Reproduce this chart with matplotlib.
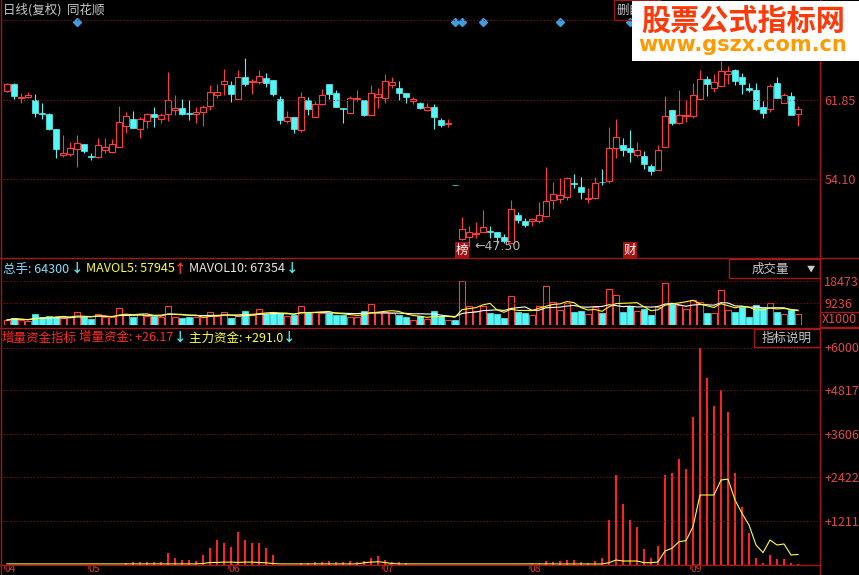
import numpy as np
import pandas as pd
import matplotlib
matplotlib.use("Agg")
import matplotlib.pyplot as plt
from matplotlib.lines import Line2D
from matplotlib.patches import Rectangle
import matplotlib.transforms as mtransforms

plt.rcParams['font.family'] = ['Noto Sans CJK SC', 'DejaVu Sans']

# daily candles (qfq), one per trading day
opens = [62.73, 63.38, 62.04, 62.11, 61.82, 60.52, 60.49, 59.00, 56.43, 56.56,
         57.05, 57.51, 56.37, 56.24, 56.92, 56.76, 57.27, 59.29, 59.97, 58.97,
         59.80, 60.49, 59.97, 60.43, 60.88, 61.04, 60.58, 60.43, 60.62, 61.21,
         62.34, 63.38, 63.25, 61.92, 64.06, 63.54, 63.57, 64.00, 63.77, 61.92,
         59.77, 60.13, 58.90, 61.82, 60.19, 61.40, 63.38, 62.53, 61.01, 60.58,
         61.89, 61.82, 60.36, 62.14, 61.99, 63.28, 62.96, 62.53, 61.75, 61.50,
         60.88, 61.14, 59.87, 59.48, 53.53, 48.25, 48.48, 48.80, 48.99, 49.09,
         48.99, 48.51, 47.92, 50.59, 50.04, 50.07, 50.04, 50.55, 52.08, 52.15,
         52.40, 53.71, 53.38, 52.21, 52.24, 53.86, 53.96, 57.12, 57.41, 57.12,
         56.49, 56.40, 55.39, 55.00, 57.27, 60.85, 59.55, 60.29, 60.29, 61.89,
         63.87, 62.96, 63.21, 64.32, 64.74, 64.03, 62.96, 62.79, 61.14, 60.91,
         63.45, 61.56, 62.21, 60.43]
highs = [63.45, 63.45, 62.53, 62.57, 62.37, 61.50, 60.58, 59.00, 58.41, 57.73,
         58.44, 57.51, 56.69, 58.09, 58.09, 57.99, 61.24, 60.62, 60.78, 60.19,
         60.52, 61.11, 60.52, 64.52, 62.31, 61.89, 61.82, 61.17, 61.36, 63.28,
         63.38, 64.81, 63.70, 64.74, 65.91, 63.89, 64.74, 64.42, 63.77, 62.21,
         60.75, 60.13, 62.63, 62.08, 61.75, 62.86, 63.38, 62.79, 61.01, 62.21,
         62.79, 61.82, 63.28, 62.96, 64.35, 64.03, 63.64, 62.53, 62.08, 61.60,
         61.56, 61.40, 60.04, 60.00, 53.53, 50.45, 49.58, 49.97, 51.11, 49.58,
         48.99, 48.77, 52.08, 50.94, 50.30, 50.30, 51.86, 55.32, 53.86, 54.19,
         54.35, 54.58, 54.35, 53.28, 54.29, 55.07, 59.22, 59.94, 58.09, 58.90,
         57.70, 56.88, 55.56, 57.44, 62.21, 60.85, 62.79, 61.82, 63.45, 64.74,
         64.19, 64.35, 65.62, 65.16, 64.81, 64.42, 63.45, 63.45, 61.75, 63.38,
         64.09, 62.47, 62.63, 61.24]
lows = [62.57, 61.89, 61.56, 62.04, 60.13, 59.94, 58.93, 56.20, 56.30, 56.37,
        55.27, 56.69, 55.98, 56.14, 56.63, 56.69, 57.21, 58.57, 59.12, 58.15,
        59.06, 59.22, 59.55, 59.77, 60.36, 60.36, 59.87, 59.55, 59.32, 60.85,
        61.99, 62.28, 61.62, 61.89, 63.18, 62.40, 63.38, 63.12, 62.21, 59.45,
        59.61, 58.63, 58.73, 60.36, 60.19, 61.33, 61.92, 61.17, 59.61, 60.52,
        61.75, 60.26, 60.36, 61.01, 61.56, 62.96, 61.82, 61.50, 61.40, 60.94,
        60.78, 58.97, 59.16, 59.16, 53.50, 48.18, 47.50, 48.35, 48.99, 48.35,
        47.77, 47.92, 47.92, 49.87, 49.48, 49.58, 49.81, 50.45, 51.17, 51.76,
        52.08, 53.22, 52.18, 51.76, 52.15, 53.54, 53.77, 56.14, 56.40, 55.81,
        56.30, 55.07, 54.52, 55.00, 57.21, 59.39, 59.48, 59.71, 60.04, 61.89,
        62.21, 62.63, 63.21, 63.35, 63.28, 62.40, 62.63, 60.85, 60.10, 60.68,
        61.99, 61.50, 60.36, 59.32]
closes = [63.38, 62.24, 62.14, 62.28, 60.58, 60.46, 59.00, 57.02, 56.63, 57.14,
          57.60, 56.88, 56.24, 57.44, 57.24, 57.53, 59.68, 60.26, 59.12, 59.97,
          60.46, 60.13, 60.33, 61.82, 61.04, 60.46, 60.46, 60.65, 61.17, 62.57,
          62.60, 63.67, 62.37, 64.06, 63.35, 63.64, 64.16, 63.45, 62.37, 59.87,
          60.13, 58.97, 62.11, 60.91, 61.40, 62.31, 62.37, 61.17, 60.94, 61.99,
          61.99, 60.36, 62.47, 62.40, 63.64, 63.54, 62.53, 62.14, 61.92, 61.07,
          61.14, 60.19, 59.39, 59.55, 53.50, 49.23, 48.96, 48.90, 49.48, 48.99,
          48.51, 48.09, 51.17, 50.13, 49.64, 50.20, 50.62, 51.98, 52.63, 52.57,
          54.19, 53.64, 52.83, 52.28, 53.71, 53.80, 57.12, 58.19, 56.95, 56.79,
          56.95, 55.56, 54.93, 56.95, 60.26, 59.55, 60.36, 60.36, 62.31, 63.87,
          63.38, 63.54, 64.64, 64.64, 63.70, 63.38, 62.79, 60.91, 60.58, 63.21,
          61.99, 62.31, 60.36, 60.91]

# volume, X1000
volume = [2100, 3070, 2100, 1680, 4480, 3500, 3780, 3500, 2800, 3360,
          5320, 3500, 2520, 4480, 3220, 3360, 7280, 4480, 3220, 4480,
          3920, 3780, 3220, 7980, 3500, 2800, 3360, 3220, 3360, 5320,
          3780, 5320, 3070, 3920, 5880, 4200, 6720, 4620, 4900, 4900,
          3780, 4200, 7980, 5320, 5320, 4900, 4900, 4200, 4200, 3500,
          3500, 5880, 8680, 5320, 5320, 4900, 4200, 3500, 2100, 3780,
          2520, 5880, 3780, 2100, 2100, 18400, 7980, 5880, 7980, 5180,
          4620, 3070, 12180, 5600, 5180, 4200, 7980, 16380, 9520, 6300,
          9100, 5600, 5880, 4620, 7420, 5180, 15120, 12600, 5320, 7980,
          5880, 6580, 4200, 7420, 17500, 8820, 8400, 6720, 10500, 9800,
          4900, 4900, 14700, 6300, 5320, 7700, 3500, 8400, 7000, 9100,
          5600, 4620, 6300, 4620]

# 增量资金 (red bars)
zengliang = [0, 0, 0, 0, 0, 0, 0, 0, 0, 0,
             0, 0, 0, 0, 0, 0, 0, 60, 70, 70,
             90, 90, 70, 330, 190, 140, 140, 120, 270, 480,
             700, 620, 500, 900, 700, 620, 620, 480, 280, 0,
             0, 0, 60, 60, 80, 80, 100, 70, 80, 100,
             80, 100, 200, 260, 150, 80, 80, 60, 0, 0,
             0, 0, 0, 0, 0, 0, 0, 0, 0, 0,
             0, 0, 0, 0, 0, 60, 60, 100, 80, 120,
             138, 138, 83, 64, 120, 184, 1243, 2486, 1685, 1243,
             1040, 433, 202, 525, 2486, 2550, 2928, 2660, 4070, 6000,
             5157, 4400, 4834, 4207, 2550, 1611, 893, 184, 64, 276,
             166, 166, 64, 26.17]

# 主力资金 (yellow line)
zhuli = [30, 30, 30, 30, 30, 30, 30, 30, 30, 30,
         30, 30, 30, 30, 30, 30, 30, 30, 30, 30,
         30, 30, 30, 30, 30, 30, 30, 30, 40, 70,
         70, 80, 80, 70, 80, 80, 70, 60, 40, 30,
         30, 30, 30, 30, 30, 30, 30, 30, 30, 30,
         30, 60, 80, 90, 70, 40, 30, 30, 30, 30,
         30, 30, 30, 30, 30, 30, 30, 30, 30, 30,
         30, 30, 30, 30, 30, 30, 30, 30, 30, 28,
         28, 28, 28, 28, 28, 28, 64, 138, 110, 110,
         110, 64, 64, 83, 386, 460, 644, 672, 1058, 1931,
         1931, 1931, 2345, 2370, 1793, 1425, 1103, 552, 340, 690,
         552, 580, 276, 291]

month_pos = [1, 13, 33, 55, 76, 99]
month_labels = ['04', '05', '06', '07', '08', '09']
price_ticks = [61.85, 54.10]
vol_ticks = [9236, 18473]
fund_ticks = [1211, 2422, 3606, 4817, 6000]
signal_days = [11, 65, 66, 69, 80, 90]

RED = '#ff3c3c'
CYAN = '#54f6f6'
GRID = '#8a1414'
BORDER = '#a01818'
LABEL = '#e04848'

W, H = 859, 575


def fx(x):
    return x / W


def fy(y):
    return 1 - y / H


fig = plt.figure(figsize=(W / 100, H / 100), dpi=100, facecolor='black')

ax_p = fig.add_axes([0, fy(258), fx(820), 258 / H])
ax_v = fig.add_axes([0, fy(325), fx(820), 66 / H])
ax_b = fig.add_axes([0, fy(565), fx(820), 235 / H])

xmax = 820 / 7
for ax in (ax_p, ax_v, ax_b):
    ax.set_facecolor('none')
    ax.set_xlim(0, xmax)
    for s in ax.spines.values():
        s.set_visible(False)
    ax.yaxis.tick_right()
    ax.tick_params(axis='y', length=0, pad=3, labelcolor=LABEL, labelsize=9)

idx = np.arange(1, len(opens) + 1)
o = np.array(opens)
h = np.array(highs)
l = np.array(lows)
c = np.array(closes)
up = c >= o
bw = 0.72

# price panel
ax_p.set_ylim(71.557 - 0.09736 * 258, 71.557)
ax_p.set_xticks([])
ax_p.set_yticks(price_ticks)
ax_p.set_yticklabels(['%.2f' % v for v in price_ticks])
ax_p.hlines(price_ticks, 0, xmax, colors=GRID, linestyles=(0, (1, 2)), linewidth=0.8)

top = np.maximum(o, c)
bot = np.minimum(o, c)
ax_p.vlines(idx[up], top[up], h[up], colors=RED, linewidth=0.8)
ax_p.vlines(idx[up], l[up], bot[up], colors=RED, linewidth=0.8)
ax_p.bar(idx[up], np.maximum(top[up] - bot[up], 0.02), bw, bot[up],
         fill=False, edgecolor=RED, linewidth=0.8)
ax_p.vlines(idx[~up], l[~up], h[~up], colors=CYAN, linewidth=0.8)
ax_p.bar(idx[~up], np.maximum(top[~up] - bot[~up], 0.06), bw, bot[~up],
         color=CYAN, edgecolor=CYAN, linewidth=0.5)

trans = mtransforms.blended_transform_factory(ax_p.transData, ax_p.transAxes)
ax_p.plot(signal_days, [1 - 22 / 258] * len(signal_days), 'D', color='#3d9fe0',
          markersize=4.5, transform=trans, clip_on=False)

# lowest price marker
imin = int(np.argmin(l))
fig.text(fx(7 * (imin + 1) + 5), fy(247), '\u2190' + '%.2f' % l[imin], color='#b4b4b4',
         fontsize=9, va='center', ha='left', family=['DejaVu Sans'])
fig.text(fx(462), fy(250), '榜', color='white', fontsize=9, va='center', ha='center',
         bbox=dict(facecolor='#a81010', edgecolor='none', pad=0.8))
fig.text(fx(630), fy(250), '财', color='white', fontsize=9, va='center', ha='center',
         bbox=dict(facecolor='#a81010', edgecolor='none', pad=0.8))

# volume panel
vol = np.array(volume, dtype=float)
ax_v.set_ylim(0, 66 * 419.9)
ax_v.set_xticks([])
ax_v.set_yticks(vol_ticks)
ax_v.set_yticklabels([str(v) for v in vol_ticks])
ax_v.hlines(vol_ticks, 0, xmax, colors=GRID, linestyles=(0, (1, 2)), linewidth=0.8)
ax_v.bar(idx[up], vol[up], bw, 0, fill=False, edgecolor=RED, linewidth=0.8)
ax_v.bar(idx[~up], vol[~up], bw, 0, color=CYAN, edgecolor=CYAN, linewidth=0.5)
ma5 = pd.Series(vol).rolling(5, min_periods=1).mean()
ma10 = pd.Series(vol).rolling(10, min_periods=1).mean()
ax_v.plot(idx, ma10, color='white', linewidth=0.8)
ax_v.plot(idx, ma5, color='#ffff30', linewidth=0.8)

# fund panel
ax_b.set_ylim(0, 235 / 0.03625)
ax_b.set_yticks(fund_ticks)
ax_b.set_yticklabels(['+%d' % v for v in fund_ticks])
ax_b.hlines(fund_ticks, 0, xmax, colors=GRID, linestyles=(0, (1, 2)), linewidth=0.8)
ax_b.bar(idx, zengliang, 0.36, 0, color='#ff2020', linewidth=0)
ax_b.plot(idx, zhuli, color='#ffff40', linewidth=0.8)
ax_b.set_xticks([m - 0.5 for m in month_pos])
ax_b.set_xticklabels([])
ax_b.tick_params(axis='x', length=3, color=BORDER)
mtrans = mtransforms.blended_transform_factory(ax_b.transData, fig.transFigure)
for m, lab in zip(month_pos, month_labels):
    ax_b.text(m - 0.3, fy(574), lab, color='#d03c3c', fontsize=7.5, ha='left', va='bottom',
              transform=mtrans, clip_on=False)

# borders
for x0, y0, x1, y1 in [(1, 0, 1, 575), (820, 0, 820, 575), (0, 258, 859, 258),
                       (0, 328, 859, 328), (0, 565, 820, 565)]:
    fig.add_artist(Line2D([fx(x0), fx(x1)], [fy(y0), fy(y1)], color=BORDER, linewidth=1))
fig.add_artist(Line2D([0, 1], [fy(20), fy(20)], color=GRID, linewidth=0.8,
                      linestyle=(0, (1, 2))))

# headers
fig.text(fx(3), fy(10), '日线(复权)  同花顺', color='#c8c8c8', fontsize=9, va='center')
fig.text(fx(3), fy(269), '总手: 64300', color='#7fe0ff', fontsize=9, va='center')
fig.text(fx(71), fy(269), '\u2193', color=CYAN, fontsize=9, va='center', fontweight='bold')
fig.text(fx(86), fy(269), 'MAVOL5: 57945', color='#ffff30', fontsize=9, va='center')
fig.text(fx(174), fy(269), '\u2191', color=RED, fontsize=9, va='center', fontweight='bold')
fig.text(fx(189), fy(269), 'MAVOL10: 67354', color='#e8e8e8', fontsize=9, va='center')
fig.text(fx(286), fy(269), '\u2193', color=CYAN, fontsize=9, va='center', fontweight='bold')

fig.text(fx(2), fy(338), '增量资金指标', color='#ff2a2a', fontsize=9, va='center')
fig.text(fx(79), fy(338), '增量资金: +26.17', color='#ff2a2a', fontsize=9, va='center')
fig.text(fx(174), fy(338), '\u2193', color=CYAN, fontsize=9, va='center', fontweight='bold')
fig.text(fx(189), fy(338), '主力资金: +291.0', color='#ffff30', fontsize=9, va='center')
fig.text(fx(283), fy(338), '\u2193', color=CYAN, fontsize=9, va='center', fontweight='bold')

# boxes
for x0, y0, x1, y1 in [(729, 259, 820, 278), (754, 329, 820, 347), (820, 312, 859, 327),
                       (614, 0, 660, 20)]:
    fig.add_artist(Rectangle((fx(x0), fy(y1)), fx(x1) - fx(x0), fy(y0) - fy(y1),
                             fill=False, edgecolor=BORDER, linewidth=1))
fig.text(fx(770), fy(269), '成交量', color='#c8c8c8', fontsize=9, va='center', ha='center')
fig.text(fx(811), fy(269), '\u25bc', color='#c8c8c8', fontsize=6, va='center', ha='center')
fig.text(fx(787), fy(338), '指标说明', color='#c8c8c8', fontsize=9, va='center', ha='center')
fig.text(fx(839), fy(319.5), 'X1000', color=LABEL, fontsize=9, va='center', ha='center')
fig.text(fx(616), fy(10), '删自', color='#c8c8c8', fontsize=9, va='center')

# watermark
fig.add_artist(Rectangle((fx(632), fy(61)), fx(859) - fx(632), fy(1.5) - fy(61),
                         facecolor='white', edgecolor='none', zorder=10))
fig.text(fx(743), fy(21), '股票公式指标网', color='#ff3a0a', fontsize=21, fontweight='bold',
         va='center', ha='center', zorder=11)
fig.text(fx(743), fy(45), 'www.gszx.com.cn', color='#ff9a00', fontsize=15, fontweight='bold',
         va='center', ha='center', zorder=11, family=['DejaVu Sans'])

fig.savefig('out.png', dpi=100, facecolor='black')
